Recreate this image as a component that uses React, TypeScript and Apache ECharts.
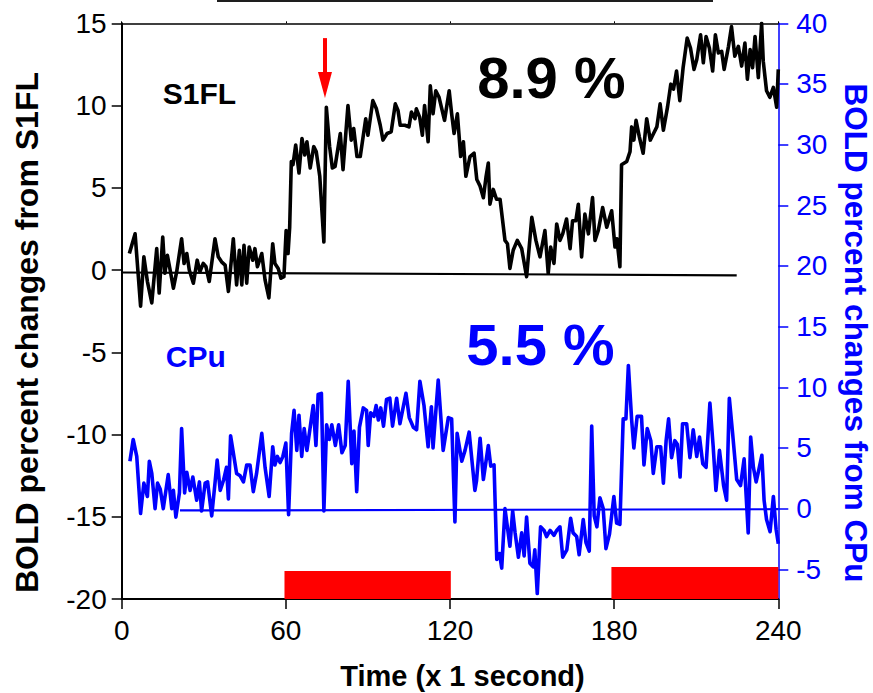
import React, { useEffect, useRef } from "react";
import * as echarts from "echarts";

// ---- data ----
const xTicks = [0, 60, 120, 180, 240];
const leftTicks = [-20, -15, -10, -5, 0, 5, 10, 15];
const rightTicks = [-5, 0, 5, 10, 15, 20, 25, 30, 35, 40];

const s1flValues: [number, number][] = [
  [2.8, 1.0], [4.9, 2.2], [6.9, -2.2], [8.1, 0.8], [9.4, -0.7], [11.0, -2.0], [12.8, 1.3], [13.7, -1.4],
  [15.0, 2.0], [15.8, -0.2], [16.7, 0.9], [17.7, 0.0], [18.9, -1.1], [20.1, -0.1], [21.9, 1.9], [22.8, 0.4],
  [23.8, 1.0], [24.7, 0.0], [26.2, -0.8], [27.6, 0.6], [28.6, -0.1], [29.8, 0.4], [30.8, 0.2], [32.0, -0.7],
  [34.1, 1.9], [35.3, 0.8], [36.5, 0.5], [37.8, 0.3], [39.0, -1.3], [40.8, 1.9], [42.0, -0.9], [43.0, 1.2],
  [43.9, -0.9], [44.7, 1.5], [45.7, -0.8], [46.6, 1.4], [47.9, 0.6], [48.7, 1.3], [49.6, 0.2], [51.2, 1.0],
  [52.4, -0.6], [53.8, -1.7], [55.2, 1.6], [56.0, 0.4], [57.2, 0.1], [58.2, -0.5], [59.3, -0.4], [60.1, 2.4],
  [60.8, 1.0], [61.4, 2.6], [62.0, 6.6], [62.6, 6.4], [63.6, 7.6], [64.8, 5.9], [65.9, 8.0], [66.9, 7.0],
  [67.7, 7.8], [68.9, 6.2], [70.2, 7.5], [71.1, 7.2], [72.4, 5.7], [73.9, 1.7], [74.8, 9.9], [76.0, 7.5],
  [77.0, 6.2], [78.0, 6.3], [79.9, 8.3], [80.9, 6.1], [82.7, 10.0], [83.9, 7.9], [84.8, 8.6], [86.0, 6.9],
  [87.2, 6.9], [89.2, 9.2], [90.0, 8.2], [91.8, 10.3], [93.1, 9.8], [94.5, 8.8], [95.5, 7.9], [97.0, 8.3],
  [98.5, 8.4], [100.0, 10.1], [101.0, 9.7], [101.8, 8.8], [103.5, 8.8], [105.0, 8.7], [105.9, 9.6], [107.2, 9.2],
  [107.7, 9.8], [108.9, 9.3], [109.9, 8.2], [110.7, 10.0], [112.0, 7.8], [112.8, 11.2], [113.8, 9.5], [114.8, 10.9],
  [116.0, 10.5], [117.0, 9.8], [118.0, 9.1], [119.7, 10.9], [120.6, 9.5], [121.5, 8.3], [122.7, 9.5], [123.9, 6.9],
  [124.9, 7.8], [125.8, 5.7], [127.3, 6.9], [128.8, 7.1], [129.8, 5.5], [131.0, 5.1], [132.2, 4.4], [133.2, 5.7],
  [134.0, 6.5], [134.6, 4.0], [135.8, 4.9], [137.0, 4.3], [138.3, 4.3], [140.1, 1.8], [141.0, 1.6], [141.9, 0.1],
  [143.1, 1.2], [144.6, 1.8], [146.2, 1.3], [148.0, -0.4], [149.9, 3.2], [151.4, 1.8], [152.9, 0.8], [154.7, 2.4],
  [155.9, -0.2], [156.8, 1.4], [158.0, 0.4], [159.0, 2.8], [160.2, 1.8], [161.2, 2.2], [162.6, 3.1], [163.9, 1.3],
  [164.8, 3.0], [166.0, 3.0], [166.9, 4.0], [168.1, 0.8], [169.3, 3.4], [170.6, 2.2], [172.1, 4.4], [173.0, 1.8],
  [174.2, 2.4], [175.8, 3.8], [177.3, 2.6], [179.1, 3.6], [180.3, 1.4], [181.0, 1.9], [182.1, 0.2], [182.7, 6.4],
  [184.6, 6.6], [185.8, 7.2], [186.4, 8.7], [187.2, 7.9], [188.0, 9.1], [189.2, 8.1], [190.6, 7.1], [191.9, 9.2],
  [193.2, 7.9], [194.4, 8.3], [195.6, 8.7], [196.8, 10.1], [198.0, 8.5], [199.5, 9.9], [200.7, 11.3], [201.7, 11.0],
  [202.8, 12.1], [204.0, 10.3], [205.2, 12.3], [206.7, 14.1], [207.9, 13.5], [209.2, 12.2], [210.2, 12.8], [211.6, 14.3],
  [212.6, 12.6], [213.6, 14.2], [214.8, 13.5], [216.0, 12.1], [217.0, 14.3], [218.1, 13.2], [219.3, 13.3], [220.2, 12.2],
  [221.8, 13.6], [222.9, 14.8], [224.1, 13.0], [225.4, 13.6], [226.6, 12.4], [227.8, 13.8], [228.7, 11.6], [229.7, 13.4],
  [230.6, 12.3], [231.5, 14.2], [232.7, 11.7], [233.9, 15.0], [234.5, 12.7], [235.7, 10.9], [236.9, 10.5], [238.2, 11.1],
  [239.4, 9.9], [240.0, 12.2],
];

const cpuValues: [number, number][] = [
  [3.0, 3.9], [4.2, 5.7], [5.5, 4.3], [6.9, -0.4], [8.1, 2.1], [9.4, 1.0], [10.1, 3.9], [11.0, 2.9],
  [12.2, 0.0], [13.1, 2.1], [14.1, 1.6], [15.2, 0.0], [17.0, 2.8], [18.3, 0.0], [18.9, 1.5], [19.8, -0.7],
  [21.1, 1.3], [21.9, 6.6], [23.0, 1.3], [23.8, 3.0], [25.0, 1.5], [26.0, 2.6], [27.4, 0.7], [28.4, 2.2],
  [29.2, -0.2], [30.5, 2.1], [31.4, 2.2], [32.9, -0.6], [34.1, 2.1], [34.9, 4.0], [36.0, 1.5], [37.3, 2.4],
  [38.3, 3.4], [39.0, 0.8], [39.8, 6.0], [40.8, 4.6], [42.0, 2.9], [43.3, 2.7], [44.5, 2.2], [45.7, 3.6],
  [46.9, 3.6], [48.1, 1.4], [49.3, 2.9], [51.2, 6.2], [52.4, 3.4], [53.9, 1.0], [55.2, 5.1], [56.0, 3.6],
  [56.9, 4.3], [57.9, 3.8], [58.9, 4.3], [60.0, 5.4], [61.0, -0.5], [62.1, 6.2], [63.0, 8.1], [64.0, 4.8],
  [64.8, 7.7], [65.8, 4.3], [66.7, 6.6], [67.7, 4.8], [68.9, 6.7], [70.0, 8.5], [71.0, 5.2], [71.8, 9.4],
  [73.0, 9.5], [73.9, -0.2], [74.9, 6.9], [75.9, 5.7], [76.8, 6.9], [78.1, 5.2], [79.3, 6.9], [80.5, 4.6],
  [81.7, 5.2], [82.8, 10.5], [84.1, 3.7], [84.9, 6.4], [85.9, 1.4], [86.9, 6.7], [88.3, 8.3], [89.5, 8.1],
  [90.1, 5.2], [91.0, 7.9], [92.2, 7.6], [93.0, 8.5], [93.8, 7.3], [94.7, 8.3], [95.7, 6.8], [96.8, 9.0],
  [98.0, 9.1], [99.0, 6.8], [100.5, 9.1], [101.7, 7.0], [103.9, 9.5], [105.1, 7.5], [106.6, 6.7], [107.8, 6.5],
  [109.0, 10.5], [110.5, 8.5], [112.0, 5.1], [113.2, 8.4], [113.8, 5.0], [115.7, 10.6], [117.5, 4.8], [119.4, 7.5],
  [120.6, 7.4], [121.8, -1.1], [122.6, 6.2], [124.3, 3.9], [125.5, 4.8], [127.0, 6.3], [129.1, 1.5], [129.7, 2.3],
  [131.0, 5.8], [132.2, 2.4], [134.0, 5.2], [134.9, 3.5], [136.1, 3.6], [137.1, -4.2], [138.1, -3.7], [138.9, -4.9],
  [140.1, 0.0], [141.9, -3.1], [142.9, -0.2], [143.8, -2.0], [145.0, -4.0], [146.2, -2.0], [147.1, -3.9], [148.0, -0.7],
  [149.2, -4.5], [150.4, -4.8], [151.0, -3.4], [151.9, -7.0], [153.1, -1.5], [154.4, -1.8], [155.3, -2.3], [156.6, -1.8],
  [158.0, -2.2], [159.0, -1.8], [160.2, -1.5], [161.2, -4.0], [162.7, -3.4], [164.1, -0.8], [165.0, -2.0], [166.3, -2.3],
  [167.2, -3.8], [168.7, -0.9], [169.7, -2.8], [170.9, -3.5], [171.8, 6.8], [172.7, -0.6], [173.7, -1.5], [174.8, 0.9],
  [176.0, 0.0], [177.0, -3.3], [178.3, -2.1], [179.9, 1.0], [180.9, -1.2], [182.1, -1.3], [183.3, 7.4], [184.3, 7.4],
  [185.2, 11.8], [186.4, 7.3], [187.2, 5.0], [188.4, 7.6], [190.0, 7.6], [190.9, 3.6], [192.1, 6.6], [193.4, 5.6],
  [194.3, 2.9], [195.6, 5.1], [197.0, 5.1], [198.0, 2.1], [199.0, 5.6], [199.9, 7.4], [201.0, 4.2], [202.2, 5.6],
  [203.1, 5.3], [204.1, 2.6], [205.0, 7.0], [206.5, 7.0], [207.7, 4.2], [208.9, 6.5], [210.2, 4.3], [211.2, 5.9],
  [212.4, 3.7], [213.6, 3.4], [215.0, 8.7], [216.2, 5.1], [217.2, 1.5], [218.5, 4.8], [220.0, 1.9], [221.1, 0.7],
  [222.1, 9.1], [223.3, 6.2], [224.8, 2.4], [226.2, 1.9], [227.5, 4.1], [229.0, -2.0], [229.9, 5.9], [230.9, 3.4],
  [231.9, 2.2], [232.7, 3.0], [234.0, 4.4], [234.8, 0.7], [235.7, -0.9], [237.0, -1.9], [238.2, 1.0], [239.2, -1.7],
  [240.0, -2.9],
];

const s1flBaseline: [number, number][] = [[0, -0.15], [224.8, -0.32]];
const cpuBaseline: [number, number][] = [[21.3, -0.15], [240, -0.05]];
// [start, end, top] on the left axis, bottom at axis minimum
const stimulusBlocks: [number, number, number][] = [[59.5, 120.3, -18.3], [179, 240, -18.05]];
const arrowFrom: [number, number] = [74.3, 14.1];
const arrowTo: [number, number] = [74.3, 11.25];

const FONT = "'Liberation Sans', Arial, Helvetica, sans-serif";
const BLUE = "#0000ff";

export default function App() {
  const ref = useRef<HTMLDivElement>(null);
  useEffect(() => {
    if (!ref.current) return;
    const chart = echarts.init(ref.current, null, { renderer: "svg" });
    const option: any = {
      animation: false,
      backgroundColor: "#ffffff",
      textStyle: { fontFamily: FONT },
      grid: { left: 121.7, right: 94.7, top: 23.3, bottom: 94, containLabel: false },
      xAxis: [
        {
          type: "value", position: "bottom", min: 0, max: 240, interval: 60,
          axisLine: { show: true, onZero: false, lineStyle: { color: "#000", width: 2 } },
          axisTick: { show: true, inside: false, length: 10, lineStyle: { color: "#000", width: 1.5 }, customValues: xTicks },
          axisLabel: { show: true, fontSize: 28, color: "#000", margin: 17, fontFamily: FONT, customValues: xTicks },
          splitLine: { show: false },
        },
        {
          type: "value", position: "top", min: 0, max: 240, interval: 60,
          axisLine: { show: true, onZero: false, lineStyle: { color: "#000", width: 1.5 } },
          axisTick: { show: true, inside: false, length: 2, lineStyle: { color: "#000", width: 1 } },
          axisLabel: { show: false },
          splitLine: { show: false },
        },
      ],
      yAxis: [
        {
          type: "value", position: "left", min: -20, max: 15, interval: 5,
          axisLine: { show: true, onZero: false, lineStyle: { color: "#000", width: 2 } },
          axisTick: { show: true, inside: false, length: 10, lineStyle: { color: "#000", width: 1.5 }, customValues: leftTicks },
          axisLabel: { show: true, fontSize: 28, color: "#000", margin: 15, fontFamily: FONT, customValues: leftTicks },
          splitLine: { show: false },
        },
        {
          type: "value", position: "right", min: -7.45, max: 40,
          axisLine: { show: true, onZero: false, lineStyle: { color: BLUE, width: 1.5 } },
          axisTick: { show: true, inside: false, length: 10, lineStyle: { color: BLUE, width: 1.5 }, customValues: rightTicks },
          axisLabel: { show: true, fontSize: 28, color: BLUE, margin: 18, fontFamily: FONT, customValues: rightTicks },
          splitLine: { show: false },
        },
      ],
      series: [
        {
          type: "custom", name: "stimulus", xAxisIndex: 0, yAxisIndex: 0, silent: true, z: 1,
          data: stimulusBlocks,
          renderItem: (params: any, api: any) => {
            const p0 = api.coord([api.value(0), api.value(2)]);
            const p1 = api.coord([api.value(1), -20]);
            return {
              type: "rect",
              shape: { x: p0[0], y: p0[1], width: p1[0] - p0[0], height: p1[1] - p0[1] },
              style: { fill: "#ff0000" },
            };
          },
        },
        {
          type: "line", name: "S1FL baseline", xAxisIndex: 0, yAxisIndex: 0, data: s1flBaseline,
          symbol: "none", silent: true, lineStyle: { color: "#000", width: 2.2 }, z: 2,
        },
        {
          type: "line", name: "CPu baseline", xAxisIndex: 0, yAxisIndex: 1, data: cpuBaseline,
          symbol: "none", silent: true, lineStyle: { color: BLUE, width: 2.2 }, z: 2,
        },
        {
          type: "line", name: "S1FL", xAxisIndex: 0, yAxisIndex: 0, data: s1flValues,
          symbol: "none", lineStyle: { color: "#000", width: 3.6, join: "round" }, itemStyle: { color: "#000" }, z: 3,
          markLine: {
            silent: true, symbol: ["none", "triangle"], symbolSize: [14, 26],
            label: { show: false },
            lineStyle: { color: "#ff0000", width: 4, type: "solid" },
            data: [[{ coord: arrowFrom }, { coord: arrowTo }]],
          },
        },
        {
          type: "line", name: "CPu", xAxisIndex: 0, yAxisIndex: 1, data: cpuValues,
          symbol: "none", lineStyle: { color: BLUE, width: 3.6, join: "round" }, itemStyle: { color: BLUE }, z: 3,
        },
      ],
      graphic: [
        { type: "rect", left: 217, top: 0, shape: { width: 496, height: 2 }, style: { fill: "#1e1e1e" } },
        {
          type: "text", x: 199.5, y: 93.5,
          style: { text: "S1FL", fontSize: 30, fontWeight: "bold", fontFamily: FONT, fill: "#000", align: "center", verticalAlign: "middle" },
        },
        {
          type: "text", x: 195.8, y: 356.7,
          style: { text: "CPu", fontSize: 30, fontWeight: "bold", fontFamily: FONT, fill: BLUE, align: "center", verticalAlign: "middle" },
        },
        {
          type: "text", x: 551.3, y: 77,
          style: { text: "8.9 %", fontSize: 58, fontWeight: "bold", fontFamily: FONT, fill: "#000", align: "center", verticalAlign: "middle" },
        },
        {
          type: "text", x: 540.5, y: 344.3,
          style: { text: "5.5 %", fontSize: 58, fontWeight: "bold", fontFamily: FONT, fill: BLUE, align: "center", verticalAlign: "middle" },
        },
        {
          type: "text", x: 462.5, y: 675.5,
          style: { text: "Time (x 1 second)", fontSize: 29, fontWeight: "bold", fontFamily: FONT, fill: "#000", align: "center", verticalAlign: "middle" },
        },
        {
          type: "text", x: 27, y: 332.5, rotation: Math.PI / 2,
          style: { text: "BOLD percent changes from S1FL", fontSize: 32, fontWeight: "bold", fontFamily: FONT, fill: "#000", align: "center", verticalAlign: "middle" },
        },
        {
          type: "text", x: 856, y: 333, rotation: -Math.PI / 2,
          style: { text: "BOLD percent changes from CPu", fontSize: 31.5, fontWeight: "bold", fontFamily: FONT, fill: BLUE, align: "center", verticalAlign: "middle" },
        },
      ],
    };
    chart.setOption(option);
    return () => chart.dispose();
  }, []);
  return (
    <div
      ref={ref}
      style={{ position: "absolute", left: 0, top: 0, width: 873, height: 693, background: "#fff" }}
    />
  );
}
